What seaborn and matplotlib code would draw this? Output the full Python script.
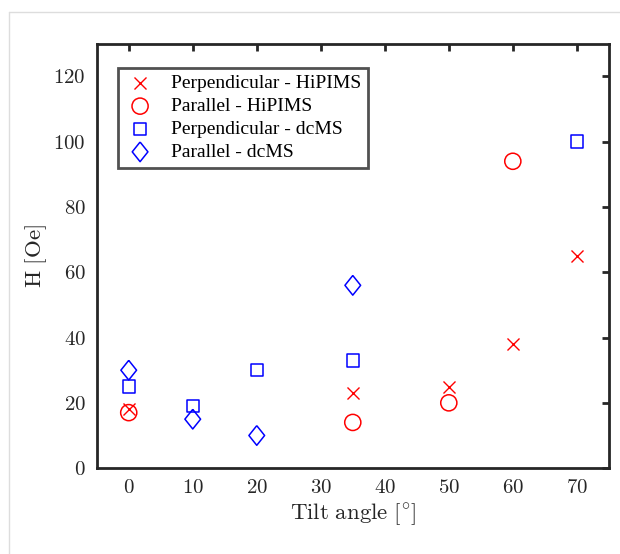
import matplotlib
matplotlib.use("Agg")
import matplotlib.pyplot as plt
from matplotlib.lines import Line2D
import seaborn as sns

# Tilt angle [deg] and coercive field H [Oe] for each series
perp_hipims_x = [0, 35, 50, 60, 70]
perp_hipims_h = [18, 23, 25, 38, 65]
par_hipims_x = [0, 35, 50, 60]
par_hipims_h = [17, 14, 20, 94]
perp_dcms_x = [0, 10, 20, 35, 70]
perp_dcms_h = [25, 19, 30, 33, 100]
par_dcms_x = [0, 10, 20, 35]
par_dcms_h = [30, 15, 10, 56]

labels = ["Perpendicular - HiPIMS", "Parallel - HiPIMS",
          "Perpendicular - dcMS", "Parallel - dcMS"]
x_ticks = [0, 10, 20, 30, 40, 50, 60, 70]
y_ticks = [0, 20, 40, 60, 80, 100, 120]

sns.set_theme(style="white")
plt.rcParams["font.family"] = ["Liberation Serif", "DejaVu Serif"]
plt.rcParams["mathtext.fontset"] = "cm"
plt.rcParams["axes.formatter.use_mathtext"] = True
dark = "#262626"

fig = plt.figure(figsize=(6.2, 5.54), dpi=100)
ax = fig.add_axes([0.156, 0.155, 0.826, 0.766])

# MATLAB-like diamond (a bit taller than wide)
diamond = [(0, 1), (0.8, 0), (0, -1), (-0.8, 0), (0, 1)]

sns.scatterplot(x=perp_hipims_x, y=perp_hipims_h, marker="x", s=75,
                color="red", linewidth=1.0, ax=ax, label=labels[0])
sns.scatterplot(x=par_hipims_x, y=par_hipims_h, marker="o", s=135,
                facecolors="none", edgecolors="red", linewidth=1.1,
                ax=ax, label=labels[1])
sns.scatterplot(x=perp_dcms_x, y=perp_dcms_h, marker="s", s=80,
                facecolors="none", edgecolors="blue", linewidth=1.1,
                ax=ax, label=labels[2])
sns.scatterplot(x=par_dcms_x, y=par_dcms_h, marker=diamond, s=200,
                facecolors="none", edgecolors="blue", linewidth=1.1,
                ax=ax, label=labels[3])

ax.set_xlim(-5, 75)
ax.set_ylim(0, 130)
ax.set_xticks(x_ticks)
ax.set_yticks(y_ticks)
ax.tick_params(direction="in", length=5, width=2, top=True, right=True,
               colors=dark, pad=8)
for lab in ax.get_xticklabels() + ax.get_yticklabels():
    lab.set_fontfamily("cmr10")
    lab.set_fontsize(15)
for sp in ax.spines.values():
    sp.set_visible(True)
    sp.set_linewidth(2)
    sp.set_color(dark)

ax.set_xlabel(r"$\mathrm{Tilt\ angle\ [{}^{\circ}]}$", fontsize=16.5,
              color=dark, labelpad=3)
ax.set_ylabel(r"$\mathrm{H\ [Oe]}$", fontsize=16.5, color=dark, labelpad=3)

leg = ax.legend(loc="upper left", bbox_to_anchor=(0.041, 0.943),
                borderaxespad=0, fontsize=14, frameon=True, fancybox=False,
                handletextpad=0.8, labelspacing=0.27, borderpad=0.35,
                handlelength=1.6)
leg.get_frame().set_edgecolor(dark)
leg.get_frame().set_linewidth(2)
for t in leg.get_texts():
    t.set_color("black")

# thin light frame around the figure (top and left edge)
fig.add_artist(Line2D([0.0145, 1.0], [0.978, 0.978], color="#dddddd", lw=1))
fig.add_artist(Line2D([0.0145, 0.0145], [0.0, 0.978], color="#dddddd", lw=1))

fig.savefig("out.png", dpi=100)
